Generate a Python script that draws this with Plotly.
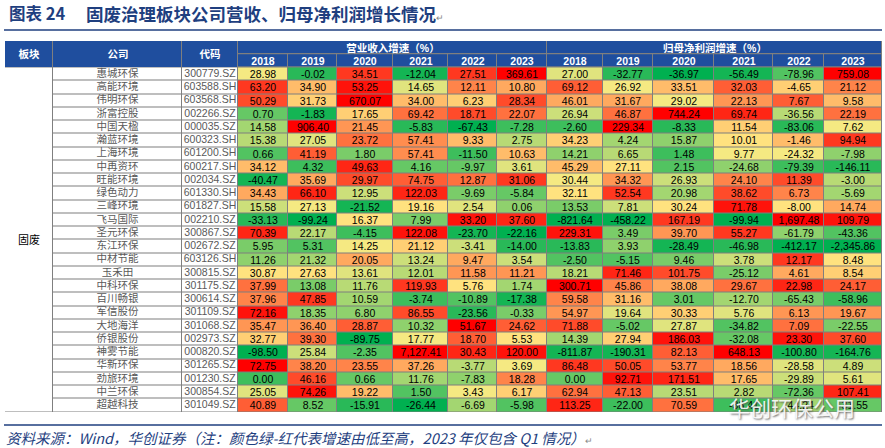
import numpy as np
import pandas as pd
import plotly.graph_objects as go

# ---- data ----
companies = ['惠城环保', '高能环境', '伟明环保', '浙富控股', '中国天楹', '瀚蓝环境', '上海环境',
             '中再资环', '旺能环境', '绿色动力', '三峰环境', '飞马国际', '圣元环保', '东江环保',
             '中材节能', '玉禾田', '中科环保', '百川畅银', '军信股份', '大地海洋', '侨银股份',
             '神雾节能', '华新环保', '劲旅环境', '中兰环保', '超越科技']
codes = ['300779.SZ', '603588.SH', '603568.SH', '002266.SZ', '000035.SZ', '600323.SH', '601200.SH',
         '600217.SH', '002034.SZ', '601330.SH', '601827.SH', '002210.SZ', '300867.SZ', '002672.SZ',
         '603126.SH', '300815.SZ', '301175.SZ', '300614.SZ', '301109.SZ', '301068.SZ', '002973.SZ',
         '000820.SZ', '301265.SZ', '001230.SZ', '300854.SZ', '301049.SZ']
years = ['2018', '2019', '2020', '2021', '2022', '2023']
sector = '固废'

# 营业收入增速 (%)
rev_growth = [
    [28.98, -0.02, 34.51, -12.04, 27.51, 369.61],
    [63.20, 34.90, 53.25, 14.65, 12.11, 10.80],
    [50.29, 31.73, 670.07, 34.00, 6.23, 28.34],
    [0.70, -1.83, 17.65, 69.42, 18.71, 22.07],
    [14.58, 906.40, 21.45, -5.83, -67.43, -7.28],
    [15.38, 27.05, 23.72, 57.41, 9.33, 2.75],
    [0.66, 41.19, 1.80, 57.41, -11.50, 10.63],
    [34.12, 4.32, 49.63, 4.16, -9.97, 3.61],
    [-40.47, 35.69, 29.97, 74.75, 12.87, 31.06],
    [34.43, 66.10, 12.95, 122.03, -9.69, -5.84],
    [15.58, 27.13, -21.52, 19.16, 2.54, 0.06],
    [-33.13, -99.24, 16.37, 7.99, 33.20, 37.60],
    [70.39, 22.17, -4.15, 122.08, -23.70, -22.16],
    [5.95, 5.31, 14.25, 21.12, -3.41, -14.00],
    [11.26, 21.32, 20.05, 13.24, 9.47, 3.54],
    [30.87, 27.63, 13.61, 12.01, 11.58, 11.21],
    [37.99, 13.08, 11.76, 119.93, 5.76, 1.74],
    [37.96, 47.85, 10.59, -3.74, -10.89, -17.38],
    [72.16, 18.35, 6.80, 86.55, -23.56, -0.33],
    [35.47, 36.40, 28.87, 10.32, 51.67, 24.62],
    [32.77, 39.30, -89.75, 17.77, 18.70, 5.53],
    [-98.50, 25.84, -2.35, 7127.41, 30.43, 120.00],
    [72.75, 38.20, 23.55, 37.26, -3.77, 3.69],
    [0.00, 46.16, 0.66, 11.76, -7.83, 18.28],
    [25.05, 74.26, 19.22, 1.50, 3.43, 6.17],
    [40.89, 8.52, -15.91, -26.44, -6.69, -5.98],
]

# 归母净利润增速 (%)  (last row partly hidden by the watermark -> estimated)
profit_growth = [
    [27.00, -32.77, -36.97, -56.49, -78.96, 759.08],
    [69.12, 26.92, 33.51, 32.03, -4.65, 21.12],
    [46.01, 31.67, 29.02, 22.13, 7.67, 9.58],
    [26.94, 46.87, 744.24, 69.74, -36.56, 22.19],
    [-2.60, 229.34, -8.33, 11.54, -83.06, 7.62],
    [34.23, 4.24, 15.87, 10.01, -1.46, 94.94],
    [14.21, 6.65, 1.48, 9.77, -24.32, -7.98],
    [45.29, 27.11, 2.15, -24.68, -79.39, -146.11],
    [30.44, 34.32, 26.93, 24.10, 11.39, -3.00],
    [32.11, 52.54, 20.98, 38.62, 6.73, -5.69],
    [13.53, 7.81, 30.24, 71.78, -8.00, 14.74],
    [-821.64, -458.22, 167.19, -99.94, 1697.48, 109.79],
    [229.31, 3.49, 39.70, 55.27, -61.79, -43.36],
    [-13.83, 3.93, -28.49, -46.98, -412.17, -2345.86],
    [-2.50, -5.15, 9.46, 3.78, 12.17, 8.48],
    [18.21, 71.46, 101.75, -25.12, 4.61, 8.54],
    [300.71, 45.86, 38.08, 29.67, 22.98, 24.17],
    [59.58, 31.16, 3.01, -12.70, -65.43, -58.96],
    [54.97, 19.64, 30.33, 5.76, 6.13, 19.67],
    [71.88, -5.02, 27.87, -34.82, 7.09, -22.55],
    [14.39, 27.94, 186.03, -32.08, 23.30, 37.60],
    [-811.87, -190.31, 82.13, 648.13, -100.80, -164.76],
    [86.48, 50.05, 53.77, 18.56, -28.58, 4.89],
    [0.00, 92.71, 171.51, 17.65, -29.89, 5.61],
    [62.94, 47.13, 23.51, 2.82, -72.36, 107.41],
    [113.25, -22.00, 70.59, -38.41, -44.24, -31.55],
]

# ---- layout constants ----
W, H = 885, 448
ML, MR, MT, MB = 5, 3, 41, 36
col_widths = [48, 129, 56, 50, 49, 56, 55, 49, 50, 56, 50, 61, 59, 51, 58]
edges = np.concatenate([[0], np.cumsum(col_widths)])
centers = (edges[:-1] + edges[1:]) / 2
n = len(companies)
nrows = n + 2  # two header rows
plot_h = H - MT - MB
plot_w = W - ML - MR

def px(x):
    return (x - ML) / plot_w

def py(y):
    return (H - MB - y) / plot_h

blue = '#1F4E9E'
dark_blue = '#1F3F7F'

# colour index per column: rank based green -> yellow -> red
vals = np.hstack([np.array(rev_growth), np.array(profit_growth)])
df = pd.DataFrame(vals)
z = ((df.rank(method='average') - 1) / (n - 1)).values
txt = [[f'{v:,.2f}' for v in row] for row in vals]

fig = go.Figure()

# coloured data cells
fig.add_trace(go.Heatmap(
    x=edges[3:], y=np.arange(2, nrows + 1), z=z, text=txt, texttemplate='%{text}',
    textfont=dict(family='Liberation Sans, Arial', size=10.5, color='black'),
    colorscale=[[0, '#00B050'], [0.5, '#FFEB84'], [1, '#FF0000']],
    zmin=0, zmax=1, showscale=False, xgap=1, ygap=1, hoverinfo='skip'))

# company / code columns (white cells)
fig.add_trace(go.Heatmap(
    x=edges[1:4], y=np.arange(2, nrows + 1), z=np.zeros((n, 2)),
    colorscale=[[0, 'white'], [1, 'white']], showscale=False, xgap=1, ygap=1, hoverinfo='skip'))
row_mid = np.arange(n) + 2.5
fig.add_trace(go.Scatter(
    x=[centers[1]] * n, y=row_mid, text=companies, mode='text', textposition='middle center',
    textfont=dict(family='Noto Sans CJK SC', size=10.5, color='#595959'), hoverinfo='skip', cliponaxis=False))
fig.add_trace(go.Scatter(
    x=[centers[2]] * n, y=row_mid, text=codes, mode='text', textposition='middle center',
    textfont=dict(family='Liberation Sans, Arial', size=10.5, color='#595959'), hoverinfo='skip', cliponaxis=False))

# sector column (merged cell)
fig.add_trace(go.Heatmap(
    x=edges[0:2], y=[2, nrows], z=[[0]], text=[[sector]], texttemplate='%{text}',
    textfont=dict(family='Noto Sans CJK SC', size=11, color='black'),
    colorscale=[[0, 'white'], [1, 'white']], showscale=False, xgap=1, ygap=1, hoverinfo='skip'))

hdr_font = dict(family='Liberation Sans, Noto Sans CJK SC', size=10.5, color='white')
blue_scale = [[0, blue], [1, blue]]
# header: merged first three columns
fig.add_trace(go.Heatmap(
    x=edges[0:4], y=[0, 2], z=[[0, 0, 0]], text=[['<b>板块</b>', '<b>公司</b>', '<b>代码</b>']],
    texttemplate='%{text}', textfont=hdr_font, colorscale=blue_scale, showscale=False,
    xgap=1, ygap=1, hoverinfo='skip'))
# header: group titles
fig.add_trace(go.Heatmap(
    x=[edges[3], edges[9], edges[15]], y=[0, 1], z=[[0, 0]],
    text=[['<b>营业收入增速（%）</b>', '<b>归母净利润增速（%）</b>']],
    texttemplate='%{text}', textfont=hdr_font, colorscale=blue_scale, showscale=False,
    xgap=1, ygap=1, hoverinfo='skip'))
# header: years
fig.add_trace(go.Heatmap(
    x=edges[3:], y=[1, 2], z=[[0] * 12], text=[[f'<b>{y}</b>' for y in years * 2]],
    texttemplate='%{text}', textfont=hdr_font, colorscale=blue_scale, showscale=False,
    xgap=1, ygap=1, hoverinfo='skip'))

fig.update_xaxes(range=[0, edges[-1]], visible=False, fixedrange=True)
fig.update_yaxes(range=[nrows, 0], visible=False, fixedrange=True)

# title, rules, footnote
fig.add_annotation(x=px(7), y=py(13), xref='paper', yref='paper', xanchor='left', yanchor='middle',
                   text='<b>图表 24</b>', showarrow=False,
                   font=dict(family='Noto Sans CJK SC', size=16.5, color=dark_blue))
fig.add_annotation(x=px(84), y=py(13), xref='paper', yref='paper', xanchor='left', yanchor='middle',
                   text='<b>固废治理板块公司营收、归母净利润增长情况</b><span style="font-size:9px;color:#888">↵</span>',
                   showarrow=False, font=dict(family='Noto Sans CJK SC', size=17.5, color=dark_blue))
fig.add_shape(type='line', xref='paper', yref='paper', x0=px(4), x1=px(882), y0=py(30), y1=py(30),
              line=dict(color=dark_blue, width=1.5))
fig.add_shape(type='line', xref='paper', yref='paper', x0=px(4), x1=px(882), y0=py(425), y1=py(425),
              line=dict(color=dark_blue, width=1.5))
fig.add_annotation(x=px(4), y=py(437), xref='paper', yref='paper', xanchor='left', yanchor='middle',
                   text='<i>资料来源：Wind，华创证券（注：颜色绿-红代表增速由低至高，2023 年仅包含 Q1 情况）</i>'
                        '<span style="font-size:9px;color:#888">↵</span>',
                   showarrow=False, font=dict(family='Noto Sans CJK SC', size=14.5, color=dark_blue))

# watermark
fig.add_annotation(x=px(792), y=py(407), xref='paper', yref='paper', xanchor='center', yanchor='middle',
                   text='华创环保公用', showarrow=False,
                   font=dict(family='Noto Sans CJK SC', size=21, color='rgba(255,255,255,0.9)',
                             shadow='1px 1px 2px #555'))

fig.update_layout(width=W, height=H, margin=dict(l=ML, r=MR, t=MT, b=MB),
                  plot_bgcolor='#7F7F7F', paper_bgcolor='white', showlegend=False)

fig.write_html('out.html', config={'displayModeBar': False},
               post_script="document.body.style.margin='0';")
